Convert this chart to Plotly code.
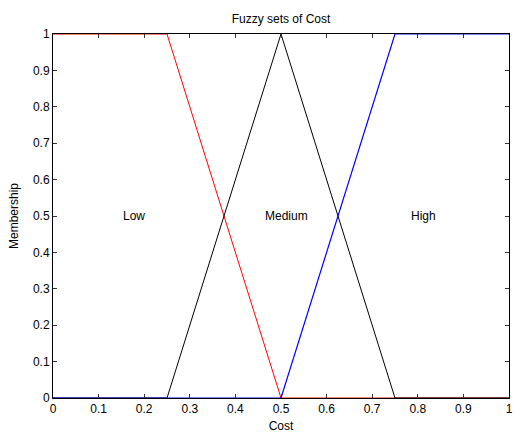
import plotly.graph_objects as go

x_low = [0, 0.25, 0.5, 1]
y_low = [1, 1, 0, 0]
x_med = [0, 0.25, 0.5, 0.75, 1]
y_med = [0, 0, 1, 0, 0]
x_high = [0, 0.5, 0.75, 1]
y_high = [0, 0, 1, 1]

label_text = ["Low", "Medium", "High"]
label_x = [0.15, 0.46, 0.78]
label_y = [0.5, 0.5, 0.5]

ticks = [round(i * 0.1, 1) for i in range(11)]
tick_text = ["0", "0.1", "0.2", "0.3", "0.4", "0.5", "0.6", "0.7", "0.8", "0.9", "1"]

font = dict(family="Arial, Liberation Sans, sans-serif", size=12, color="black")

fig = go.Figure()
fig.add_trace(go.Scatter(x=x_low, y=y_low, mode="lines", line=dict(color="red", width=1), showlegend=False))
fig.add_trace(go.Scatter(x=x_med, y=y_med, mode="lines", line=dict(color="black", width=1), showlegend=False))
fig.add_trace(go.Scatter(x=x_high, y=y_high, mode="lines", line=dict(color="blue", width=1.2), showlegend=False))

for t, xx, yy in zip(label_text, label_x, label_y):
    fig.add_annotation(x=xx, y=yy, text=t, showarrow=False, xanchor="left", yanchor="middle",
                       font=font)

axis_common = dict(
    range=[0, 1], tickmode="array", tickvals=ticks, ticktext=tick_text,
    showgrid=False, zeroline=False, showline=True, linecolor="black", linewidth=1,
    mirror="ticks", ticks="inside", ticklen=4, tickcolor="#333333", tickwidth=1,
    tickfont=font, ticklabeloverflow="allow",
)

fig.update_layout(
    width=515, height=434,
    margin=dict(l=53, r=2, t=34, b=36),
    paper_bgcolor="white", plot_bgcolor="white",
    title=dict(text="Fuzzy sets of Cost", xref="paper", x=0.5, xanchor="center",
               y=1 - 19/434, yanchor="middle", font=font),
    xaxis=dict(axis_common, title=dict(text="Cost", font=font, standoff=6)),
    yaxis=dict(axis_common, title=dict(text="Membership", font=font, standoff=11)),
)

fig.write_html("out.html")
